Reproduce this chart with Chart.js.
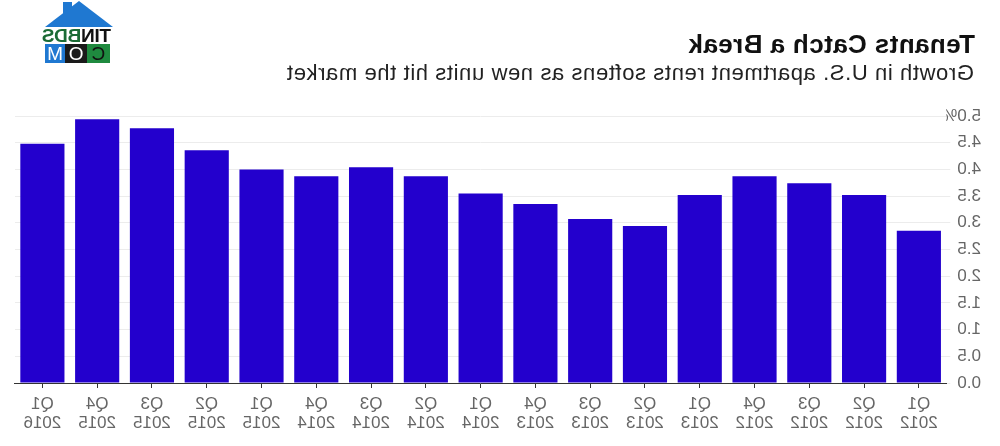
<!DOCTYPE html>
<html>
<head>
<meta charset="utf-8">
<script src="https://cdn.jsdelivr.net/npm/chart.js@4"></script>
<style>
  body { margin: 0; background: #fff; }
  #page {
    position: relative; width: 1000px; height: 446px; overflow: hidden;
    transform: scaleX(-1); font-family: "Liberation Sans", Arial, sans-serif;
  }
  #title { position: absolute; left: 25px; top: 31px; font-size: 26px; line-height: 26px; font-weight: bold; letter-spacing: 0.4px; color: #111; white-space: nowrap; }
  #subtitle { position: absolute; left: 26px; top: 62px; font-size: 22px; line-height: 22px; letter-spacing: 0.6px; color: #222; white-space: nowrap; }
  #box { position: absolute; left: 0; top: 95px; width: 1000px; height: 351px; }
  #logo { position: absolute; left: 887px; top: 0; width: 68px; height: 65px; }
  #roof { position: absolute; left: 0; top: 1px; width: 0; height: 0; border-left: 34px solid transparent; border-right: 34px solid transparent; border-bottom: 26px solid #1f78d1; }
  #chimney { position: absolute; left: 41px; top: 2px; width: 9px; height: 12px; background: #1f78d1; }
  #brand { position: absolute; left: 2px; top: 27px; width: 64px; font: bold 19px "Liberation Sans Narrow", "Liberation Sans", sans-serif; letter-spacing: -0.3px; line-height: 18px; text-align: center; }
  #com { position: absolute; left: 3px; top: 44px; display: flex; }
  #com span { display: block; height: 19px; text-align: center; font: 19px/19px "Liberation Sans", sans-serif; }
</style>
</head>
<body>
<div id="page">
  <div id="logo">
    <div id="chimney"></div>
    <div id="roof"></div>
    <div id="brand"><span style="color:#111">TIN</span><span style="color:#1b6b35">BDS</span></div>
    <div id="com">
      <span style="width:23px;background:#1f8a3f;color:#111">C</span>
      <span style="width:22px;background:#1a1a1a;color:#fff">O</span>
      <span style="width:20px;background:#1f78d1;color:#fff">M</span>
    </div>
  </div>
  <div id="title">Tenants Catch a Break</div>
  <div id="subtitle">Growth in U.S. apartment rents softens as new units hit the market</div>
  <div id="box"><canvas id="chart"></canvas></div>
</div>
<script>
const quarters = ["Q1", "Q2", "Q3", "Q4", "Q1", "Q2", "Q3", "Q4", "Q1", "Q2", "Q3", "Q4", "Q1", "Q2", "Q3", "Q4", "Q1"]
const years = ["2012", "2012", "2012", "2012", "2013", "2013", "2013", "2013", "2014", "2014", "2014", "2014", "2015", "2015", "2015", "2015", "2016"]
const rentGrowth = [2.85, 3.52, 3.74, 3.87, 3.52, 2.94, 3.07, 3.35, 3.55, 3.87, 4.04, 3.87, 4.0, 4.36, 4.77, 4.94, 4.48]
const yTicks = [0, 0.5, 1, 1.5, 2, 2.5, 3, 3.5, 4, 4.5, 5]

const labels = quarters.map((q, i) => [q, years[i]])

new Chart(document.getElementById("chart"), {
  type: "bar",
  data: {
    labels: labels,
    datasets: [{
      data: rentGrowth,
      backgroundColor: "#2300cd",
      categoryPercentage: 1,
      barPercentage: 0.806
    }]
  },
  options: {
    responsive: true,
    maintainAspectRatio: false,
    animation: false,
    layout: { padding: { left: 19, right: 15, top: 21, bottom: 6 } },
    plugins: { legend: { display: false }, tooltip: { enabled: false } },
    scales: {
      x: {
        grid: { display: true, drawOnChartArea: false, offset: false, tickLength: 5, color: "#333" },
        border: { display: true, color: "#333", width: 1 },
        ticks: {
          color: "#666", padding: 7, maxRotation: 0, autoSkip: false,
          font: { family: "Liberation Sans", size: 17, lineHeight: "19px" }
        }
      },
      y: {
        min: 0, max: 5,
        afterBuildTicks: axis => { axis.ticks = yTicks.map(v => ({ value: v })) },
        grid: { color: "#ececec", tickLength: 4 },
        border: { display: false },
        ticks: {
          color: "#666", padding: -4, crossAlign: "far",
          font: { family: "Liberation Sans", size: 17 },
          callback: v => v === 5 ? "5.0%" : v.toFixed(1)
        }
      }
    }
  }
})
</script>
</body>
</html>
